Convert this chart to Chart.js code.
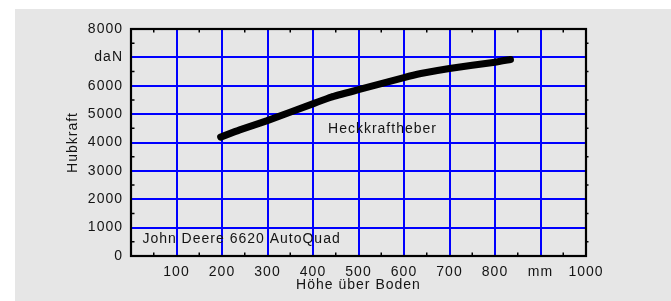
<!DOCTYPE html>
<html><head><meta charset="utf-8">
<script src="https://cdn.jsdelivr.net/npm/chart.js@4"></script>
<style>html,body{margin:0;padding:0;background:#fff;}canvas{display:block;}</style>
</head><body>
<canvas id="c" width="671" height="301"></canvas>
<script>
// Data
const heights = [197, 239, 298, 401, 440, 500, 600, 637, 700, 800, 834];
const forces  = [4190, 4444, 4762, 5370, 5600, 5860, 6290, 6430, 6610, 6830, 6925];
const xTickValues = [0, 100, 200, 300, 400, 500, 600, 700, 800, 900, 1000];
const xTickLabels = ['', '100', '200', '300', '400', '500', '600', '700', '800', 'mm', '1000'];
const yTickValues = [0, 1000, 2000, 3000, 4000, 5000, 6000, 7000, 8000];
const yTickLabels = ['0', '1000', '2000', '3000', '4000', '5000', '6000', 'daN', '8000'];
const seriesLabel = 'Heckkraftheber';
const seriesLabelAt = [433, 4470];
const modelLabel = 'John Deere 6620 AutoQuad';
const modelLabelAt = [25, 600];
const xTitle = 'Höhe über Boden';
const yTitle = 'Hubkraft';

const FONT = '"Liberation Sans", Arial, sans-serif';
const TEXT = '#141414';
const GRAY = '#e6e6e6';

const bgPlugin = {
  id: 'bg',
  beforeDraw(chart) {
    const ctx = chart.ctx;
    ctx.fillStyle = '#ffffff';
    ctx.fillRect(0, 0, chart.width, chart.height);
    ctx.fillStyle = GRAY;
    ctx.fillRect(15, 9, chart.width - 15, chart.height - 9);
    ctx.letterSpacing = '1px';
  }
};

const framePlugin = {
  id: 'frame',
  beforeDatasetsDraw(chart) {
    const ctx = chart.ctx, a = chart.chartArea;
    const xs = chart.scales.x, ys = chart.scales.y;
    ctx.save();
    ctx.strokeStyle = '#000';
    ctx.lineWidth = 1.5;
    ctx.beginPath();
    for (let v = 50; v < 1000; v += 100) {
      const px = xs.getPixelForValue(v);
      ctx.moveTo(px, a.top); ctx.lineTo(px, a.top + 3.5);
      ctx.moveTo(px, a.bottom); ctx.lineTo(px, a.bottom - 3.5);
    }
    for (let v = 500; v < 8000; v += 1000) {
      const py = ys.getPixelForValue(v);
      ctx.moveTo(a.left, py); ctx.lineTo(a.left + 3.5, py);
      ctx.moveTo(a.right, py); ctx.lineTo(a.right + 2.5, py);
    }
    ctx.stroke();
    ctx.lineWidth = 2.2;
    ctx.strokeRect(a.left, a.top, a.right - a.left, a.bottom - a.top);
    ctx.restore();
  },
  afterDraw(chart) {
    const ctx = chart.ctx, a = chart.chartArea;
    const xs = chart.scales.x, ys = chart.scales.y;
    ctx.save();
    ctx.letterSpacing = '1px';
    ctx.fillStyle = TEXT;
    ctx.font = '14px ' + FONT;
    ctx.textBaseline = 'middle';
    ctx.textAlign = 'left';
    ctx.fillText(seriesLabel, xs.getPixelForValue(seriesLabelAt[0]), ys.getPixelForValue(seriesLabelAt[1]));
    ctx.fillText(modelLabel, xs.getPixelForValue(modelLabelAt[0]), ys.getPixelForValue(modelLabelAt[1]));
    ctx.textAlign = 'center';
    ctx.fillText(xTitle, (a.left + a.right) / 2, 285);
    ctx.translate(73.5, (a.top + a.bottom) / 2);
    ctx.rotate(-Math.PI / 2);
    ctx.fillText(yTitle, 0, 0);
    ctx.restore();
  }
};

new Chart(document.getElementById('c'), {
  type: 'line',
  data: {
    datasets: [{
      label: seriesLabel,
      data: heights.map((h, i) => ({ x: h, y: forces[i] })),
      borderColor: '#000',
      borderWidth: 7,
      borderCapStyle: 'round',
      borderJoinStyle: 'round',
      tension: 0.15,
      pointRadius: 0,
      fill: false,
      clip: false
    }]
  },
  options: {
    responsive: false,
    animation: false,
    devicePixelRatio: 1,
    layout: { padding: { left: 0, top: 29, right: 85, bottom: 0 } },
    plugins: { legend: { display: false }, tooltip: { enabled: false } },
    scales: {
      x: {
        type: 'linear', min: 0, max: 1000,
        afterBuildTicks(s) { s.ticks = xTickValues.map(v => ({ value: v })); },
        afterFit(s) { s.height = 45; },
        border: { display: false },
        grid: {
          color: c => (c.tick && (c.tick.value === 0 || c.tick.value === 1000)) ? 'rgba(0,0,0,0)' : '#0000ff',
          lineWidth: 2, drawTicks: false
        },
        ticks: {
          autoSkip: false, maxRotation: 0, padding: 8,
          color: TEXT, font: { family: FONT, size: 14 },
          callback: v => { const i = xTickValues.indexOf(v); return i >= 0 ? xTickLabels[i] : ''; }
        }
      },
      y: {
        type: 'linear', min: 0, max: 8000,
        afterBuildTicks(s) { s.ticks = yTickValues.map(v => ({ value: v })); },
        afterFit(s) { s.width = 131; },
        border: { display: false },
        grid: {
          color: c => (c.tick && (c.tick.value === 0 || c.tick.value === 8000)) ? 'rgba(0,0,0,0)' : '#0000ff',
          lineWidth: 2, drawTicks: false
        },
        ticks: {
          autoSkip: false, padding: 8,
          color: TEXT, font: { family: FONT, size: 14 },
          callback: v => { const i = yTickValues.indexOf(v); return i >= 0 ? yTickLabels[i] : ''; }
        }
      }
    }
  },
  plugins: [bgPlugin, framePlugin]
});
</script>
</body></html>
